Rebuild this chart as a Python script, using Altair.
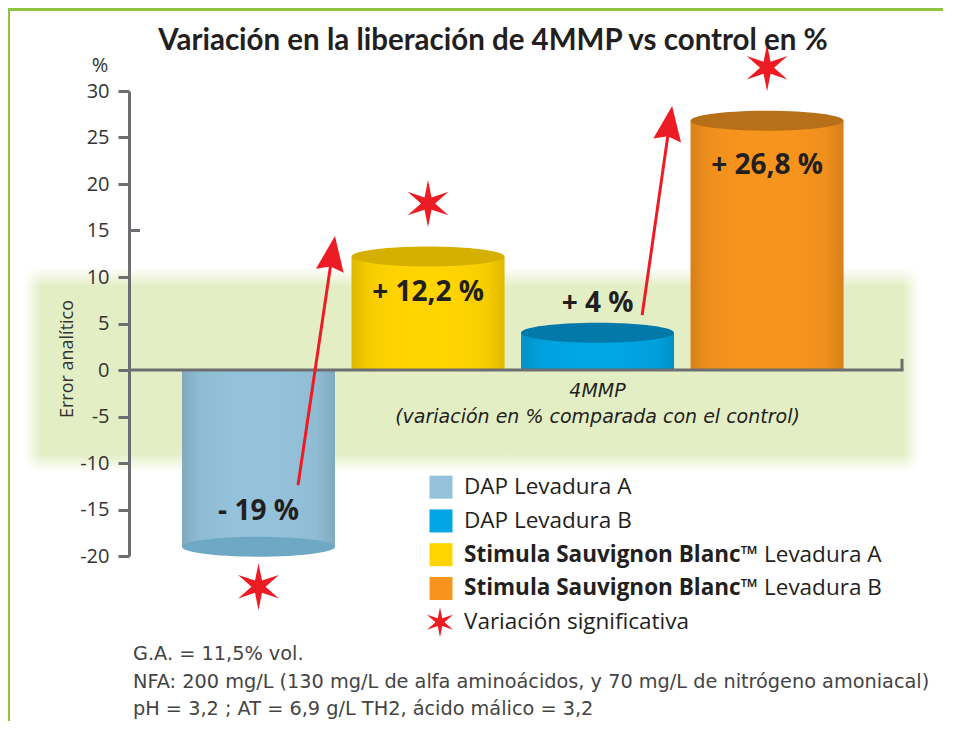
import math
import altair as alt
import pandas as pd

# ---------------- data ----------------
SERIES = ["DAP Levadura A", "DAP Levadura B",
          "Stimula Sauvignon Blanc™ Levadura A", "Stimula Sauvignon Blanc™ Levadura B"]
# bars in the order they stand on the chart
BAR_SERIES = ["DAP Levadura A", "Stimula Sauvignon Blanc™ Levadura A",
              "DAP Levadura B", "Stimula Sauvignon Blanc™ Levadura B"]
VALUES = [-19.0, 12.2, 4.0, 26.8]
LABELS = ["- 19 %", "+ 12,2 %", "+ 4 %", "+ 26,8 %"]
SIGNIFICANT = [True, True, False, True]

LEGEND_BOLD = ["", "", "Stimula Sauvignon Blanc™", "Stimula Sauvignon Blanc™"]
LEGEND_REGULAR = ["DAP Levadura A", "DAP Levadura B", "Levadura A", "Levadura B"]
SIG_LABEL = "Variación significativa"

ERROR_BAND = [-10, 10]
Y_TICKS = [-20, -15, -10, -5, 0, 5, 10, 15, 20, 25, 30]

# arrows (x in bar-index units, y in %)
ARROW_X0 = [0.233, 2.263]
ARROW_Y0 = [-12.4, 5.9]
ARROW_X1 = [0.451, 2.440]
ARROW_Y1 = [14.4, 28.4]

TITLE = "Variación en la liberación de 4MMP vs control en %"
Y_UNIT = "%"
Y_TITLE = "Error analítico"
X_TITLE = "4MMP"
X_SUBTITLE = "(variación en % comparada con el control)"
FOOTNOTES = ["G.A. = 11,5% vol.",
             "NFA: 200 mg/L (130 mg/L de alfa aminoácidos, y 70 mg/L de nitrógeno amoniacal)",
             "pH = 3,2 ; AT = 6,9 g/L TH2, ácido málico = 3,2"]

# ---------------- style ----------------
BAR_COLORS = ["#94c2da", "#00a5e3", "#ffd400", "#f7941d"]   # by SERIES
CAP_COLORS = ["#6fa8c5", "#0279a8", "#d6b000", "#b87018"]   # by SERIES
RED = "#ed1c24"
GREY = "#6d6e71"
TXT = "#231f20"
BAND = "#e4eec5"
FRAME = "#8cc63f"

W, H = 773, 465
PAD = {"left": 121, "top": 83, "right": 45, "bottom": 165}
XDOM = [-0.764, 3.796]
YDOM = [-20, 30]
PX_X = W / (XDOM[1] - XDOM[0])
PX_Y = H / (YDOM[1] - YDOM[0])
HALF = 76.5 / PX_X
BAR_PX = 2 * HALF * PX_X


def star_path(inner=0.3):
    pts = []
    for k in range(12):
        a = math.radians(-90 + 30 * k)
        r = 1.0 if k % 2 == 0 else inner
        pts.append(f"{r*math.cos(a):.4f},{r*math.sin(a):.4f}")
    return "M" + " L".join(pts) + " Z"


STAR = star_path(0.3)
ELLIPSE = "M-1,0 A1,0.13,0,1,0,1,0 A1,0.13,0,1,0,-1,0 Z"
HEAD = "M0,0 L-0.4,1 L0,0.88 L0.4,1 Z"

bars = pd.DataFrame({"series": BAR_SERIES, "value": VALUES, "label": LABELS,
                     "sig": SIGNIFICANT, "pos": list(range(len(BAR_SERIES)))})
bars["cap"] = BAR_SERIES

# arrows
arr_rows = []
for x0, y0, x1, y1 in zip(ARROW_X0, ARROW_Y0, ARROW_X1, ARROW_Y1):
    dxp = (x1 - x0) * PX_X
    dyp = (y1 - y0) * PX_Y
    L = math.hypot(dxp, dyp)
    ang = math.degrees(math.atan2(dxp, dyp))
    back = 22.0
    xe = x1 - (dxp / L) * back / PX_X
    ye = y1 - (dyp / L) * back / PX_Y
    arr_rows.append({"x0": x0, "y0": y0, "xe": xe, "ye": ye, "x1": x1, "y1": y1, "ang": ang})
arrows = pd.DataFrame(arr_rows)

legend = pd.DataFrame({"series": SERIES, "bold": LEGEND_BOLD, "regular": LEGEND_REGULAR,
                       "row": list(range(len(SERIES)))})
sig_legend = pd.DataFrame({"label": [SIG_LABEL], "row": [len(SERIES)]})

xs = alt.Scale(domain=XDOM, nice=False, zero=False)
ys = alt.Scale(domain=YDOM, nice=False, zero=False)
cscale = alt.Scale(domain=SERIES, range=BAR_COLORS)
fscale = alt.Scale(domain=SERIES, range=CAP_COLORS)


def X(f):
    return alt.X(f, scale=xs, axis=None, title=None)


def Y(f):
    return alt.Y(f, scale=ys, axis=None, title=None)


one = pd.DataFrame({"a": [0]})

# green border: top and left edges, drawn as one open path (no right side)
frame_df = pd.DataFrame({"fx": [0, 1, 2], "fy": [0, 1, 2]})
frame_top = alt.Chart(one).mark_rect(fill=FRAME, stroke=None).encode(
    x=alt.value(-122), x2=alt.value(W + PAD["right"] - 4), y=alt.value(-83), y2=alt.value(-80))
frame_left = alt.Chart(one).mark_rect(fill=FRAME, stroke=None).encode(
    x=alt.value(-122), x2=alt.value(-119), y=alt.value(-83), y2=alt.value(H + PAD["bottom"]))

band_df = pd.DataFrame({"lo": [ERROR_BAND[0] - 1.0], "hi": [ERROR_BAND[1] + 1.0]})
band = alt.Chart(band_df).mark_rect(
    color=alt.Gradient(gradient="linear", x1=0, x2=0, y1=0, y2=1, stops=[
        alt.GradientStop(color="rgba(228,238,197,0)", offset=0),
        alt.GradientStop(color=BAND, offset=0.09),
        alt.GradientStop(color=BAND, offset=0.91),
        alt.GradientStop(color="rgba(228,238,197,0)", offset=1)])
).encode(x=alt.value(-104), x2=alt.value(789), y=Y("hi:Q"), y2=alt.Y2("lo:Q"))

fade_l = alt.Chart(band_df).mark_rect(
    color=alt.Gradient(gradient="linear", x1=0, x2=1, y1=0, y2=0, stops=[
        alt.GradientStop(color="white", offset=0),
        alt.GradientStop(color="rgba(255,255,255,0)", offset=1)])
).encode(x=alt.value(-105), x2=alt.value(-88), y=Y("hi:Q"), y2=alt.Y2("lo:Q"))
fade_r = alt.Chart(band_df).mark_rect(
    color=alt.Gradient(gradient="linear", x1=0, x2=1, y1=0, y2=0, stops=[
        alt.GradientStop(color="rgba(255,255,255,0)", offset=0),
        alt.GradientStop(color="white", offset=1)])
).encode(x=alt.value(774), x2=alt.value(790), y=Y("hi:Q"), y2=alt.Y2("lo:Q"))

base = alt.Chart(bars).transform_calculate(
    xl=f"datum.pos - {HALF}", xr=f"datum.pos + {HALF}", zero="0")

yaxis = alt.Axis(values=Y_TICKS, labelExpr="toString(datum.value)",
                 domainColor=GREY, domainWidth=3, tickWidth=3, tickSize=11,
                 tickColor=alt.condition("datum.value == 15", alt.value("transparent"), alt.value(GREY)),
                 labelFont="Open Sans", labelFontSize=20, labelColor="#333333",
                 labelPadding=9, grid=False, title=None, zindex=1)

bar_layer = base.mark_bar(opacity=1).encode(
    x=X("xl:Q"), x2="xr:Q",
    y=alt.Y("value:Q", scale=ys, axis=yaxis), y2="zero:Q",
    color=alt.Color("series:N", scale=cscale, legend=None))

shade = base.mark_bar(
    color=alt.Gradient(gradient="linear", x1=0, x2=1, y1=0, y2=0, stops=[
        alt.GradientStop(color="rgba(0,0,0,0.13)", offset=0),
        alt.GradientStop(color="rgba(0,0,0,0.03)", offset=0.12),
        alt.GradientStop(color="rgba(0,0,0,0)", offset=0.35),
        alt.GradientStop(color="rgba(0,0,0,0)", offset=0.65),
        alt.GradientStop(color="rgba(0,0,0,0.03)", offset=0.88),
        alt.GradientStop(color="rgba(0,0,0,0.13)", offset=1)])
).encode(x=X("xl:Q"), x2="xr:Q", y=Y("value:Q"), y2="zero:Q")

caps = base.mark_point(shape=ELLIPSE, filled=True, opacity=1, size=BAR_PX ** 2).encode(
    x=X("pos:Q"), y=Y("value:Q"),
    fill=alt.Fill("cap:N", scale=fscale, legend=None))

zero_df = pd.DataFrame({"z": [0], "t": [1.2]})
zero_line = alt.Chart(zero_df).mark_rule(color=GREY, strokeWidth=3).encode(
    x=alt.value(0), x2=alt.value(W + 1.5), y=Y("z:Q"))
end_tick = alt.Chart(zero_df).mark_rule(color=GREY, strokeWidth=3).encode(
    x=alt.value(W), y=Y("z:Q"), y2="t:Q")
t15 = alt.Chart(pd.DataFrame({"v": [15]})).mark_rule(color=GREY, strokeWidth=3).encode(
    x=alt.value(0), x2=alt.value(11), y=Y("v:Q"))

labels = base.transform_calculate(
    ly="datum.value > 20 ? datum.value - 4.9 : datum.value > 8 ? datum.value - 3.95 : datum.value > 0 ? datum.value + 3.15 : datum.value + 3.7"
).mark_text(font="Open Sans", fontWeight="bold", fontSize=28, color=TXT, baseline="middle").encode(
    x=X("pos:Q"), y=Y("ly:Q"), text="label:N")

stars = base.transform_filter("datum.sig").transform_calculate(
    sy="datum.value > 0 ? datum.value + 5.7 : datum.value - 4.3"
).mark_point(shape=STAR, filled=True, opacity=1, color=RED, size=47 * 47).encode(
    x=X("pos:Q"), y=Y("sy:Q"))

arrow_lines = alt.Chart(arrows).mark_rule(color=RED, strokeWidth=3).encode(
    x=X("x0:Q"), x2="xe:Q", y=Y("y0:Q"), y2="ye:Q")
arrow_heads = alt.Chart(arrows).mark_point(shape=HEAD, filled=True, opacity=1, color=RED,
                                          size=70 * 70).encode(
    x=X("x1:Q"), y=Y("y1:Q"), angle=alt.Angle("ang:Q", scale=None))

# legend (rows stacked below the chart, in % units of the y scale)
LY = "-12.6 - 3.63 * datum.row"
FS = 22.5
leg = alt.Chart(legend).transform_calculate(ly=LY)
leg_sq = leg.mark_square(size=529, opacity=1).encode(
    x=alt.value(312), y=Y("ly:Q"), color=alt.Color("series:N", scale=cscale, legend=None))
leg_reg = leg.transform_filter("datum.bold == ''").mark_text(
    font="Open Sans", fontSize=FS, color=TXT, align="left", baseline="middle").encode(
    x=alt.value(335), y=Y("ly:Q"), text="regular:N")
leg_bold = leg.transform_filter("datum.bold != ''").mark_text(
    font="Open Sans", fontWeight="bold", fontSize=FS, color=TXT, align="left", baseline="middle").encode(
    x=alt.value(335), y=Y("ly:Q"), text="bold:N")
leg_bold_reg = leg.transform_filter("datum.bold != ''").mark_text(
    font="Open Sans", fontSize=FS, color=TXT, align="left", baseline="middle").encode(
    x=alt.value(635), y=Y("ly:Q"), text="regular:N")
sig = alt.Chart(sig_legend).transform_calculate(ly=LY)
sig_star = sig.mark_point(shape=STAR, filled=True, opacity=1, color=RED, size=30 * 30).encode(
    x=alt.value(311), y=Y("ly:Q"))
sig_txt = sig.mark_text(font="Open Sans", fontSize=FS, color=TXT, align="left", baseline="middle").encode(
    x=alt.value(335), y=Y("ly:Q"), text="label:N")


def txt(s, x, y, **kw):
    return alt.Chart(one).mark_text(text=s, **kw).encode(x=alt.value(x), y=alt.value(y))


title = txt(TITLE, 364, -41, font="Lato", fontWeight="bold", fontSize=29.5, color=TXT,
            align="center", baseline="alphabetic")
unit = txt(Y_UNIT, -29, -25, font="Open Sans", fontSize=20, color="#333333",
           align="center", baseline="middle")
ytitle = txt(Y_TITLE, -61, 268, font="Open Sans", fontSize=18, color="#333333",
             align="center", baseline="middle", angle=270)
xt1 = txt(X_TITLE, 468.5, 300, font="DejaVu Sans", fontStyle="italic", fontSize=19, color=TXT,
          align="center", baseline="middle")
xt2 = txt(X_SUBTITLE, 468.5, 326, font="DejaVu Sans", fontStyle="italic", fontSize=19, color=TXT,
          align="center", baseline="middle")
foot = txt(FOOTNOTES, 4, 554, font="DejaVu Sans", fontSize=19.3, color="#444444",
           align="left", baseline="top", lineHeight=27.5)

chart = alt.layer(
    frame_top, frame_left, band, fade_l, fade_r, bar_layer, shade, caps, zero_line, end_tick, t15,
    labels, stars, arrow_lines, arrow_heads,
    leg_sq, leg_reg, leg_bold, leg_bold_reg, sig_star, sig_txt,
    title, unit, ytitle, xt1, xt2, foot
).resolve_axis(
    x="independent", y="independent"
).properties(
    width=W, height=H,
    autosize=alt.AutoSizeParams(type="none"),
    padding=PAD,
    background="white"
).configure_view(stroke=None)

chart.save("out.html", embed_options={"renderer": "svg", "actions": False})
